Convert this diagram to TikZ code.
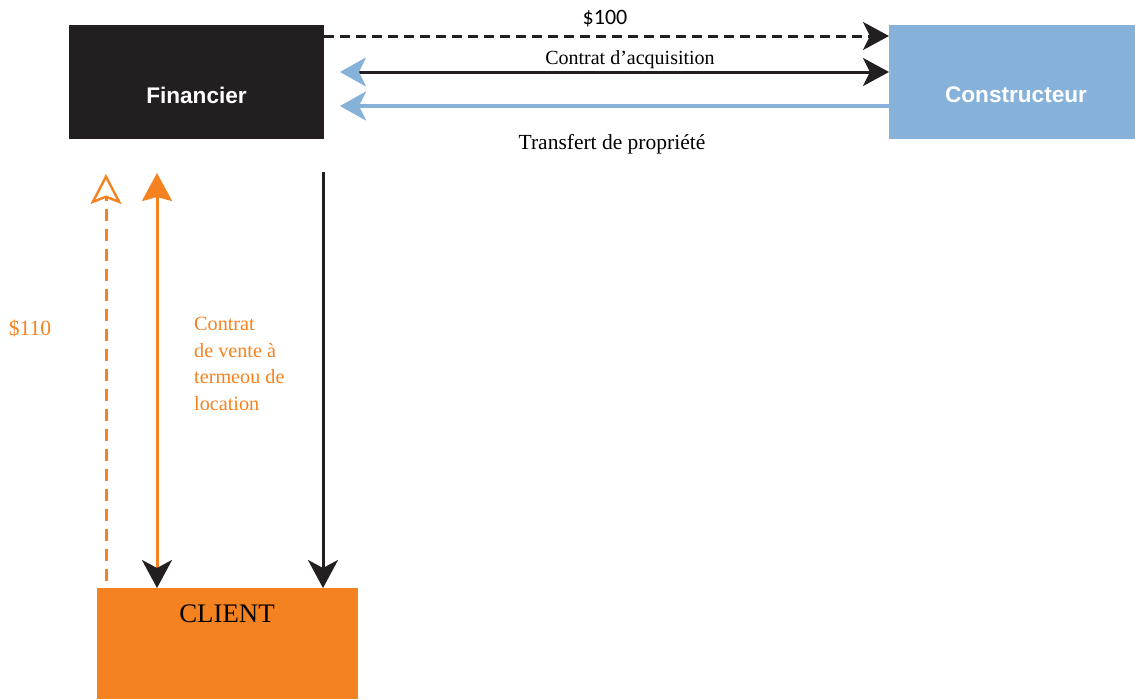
\documentclass[tikz,border=0pt]{standalone}
\usepackage{fontspec}
\setmainfont{Liberation Serif}
\newfontfamily\boxfont{Liberation Sans}
\newfontfamily\calfont{Carlito}
\usetikzlibrary{arrows.meta}
\definecolor{inkblack}{HTML}{231F20}
\definecolor{skyblue}{HTML}{86B1D8}
\definecolor{tangerine}{HTML}{F58220}
\tikzset{
  party/.style={draw=none, inner sep=0pt},
  partytext/.style={inner sep=0pt, font=\boxfont\bfseries\fontsize{22.6}{26}\selectfont, text=white},
  flow/.style={line width=3pt},
  lbl/.style={inner sep=0pt, font=\fontsize{20}{24}\selectfont},
}
\begin{document}
\begin{tikzpicture}[x=1pt, y=-1pt]
\useasboundingbox (0,0) rectangle (1135,699);
% parties
\node[party, fill=inkblack, minimum width=255pt, minimum height=114pt] (fin) at (196.5,82) {};
\node[partytext] (fintxt) at (196.5,95) {Financier};
\node[party, fill=skyblue, minimum width=246pt, minimum height=114pt] (con) at (1012,82) {};
\node[partytext] (context) at (1016,95) {Constructeur};
\node[party, fill=tangerine, minimum width=261pt, minimum height=111pt] (cli) at (227.5,643.5) {};
\node[inner sep=0pt, font=\fontsize{26.8}{30}\selectfont, text=black] (clitxt) at (227,614) {CLIENT};
% end points on the box edges
\coordinate (p1s) at (324,36);  \coordinate (p1e) at (889,36);
\coordinate (p2s) at (340,72);  \coordinate (p2e) at (889,72);
\coordinate (p3s) at (889,106); \coordinate (p3e) at (340,106);
\coordinate (v1s) at (323,172); \coordinate (v1e) at (323,588);
\coordinate (v2s) at (157,173); \coordinate (v2e) at (157,588);
\coordinate (v3s) at (106,581); \coordinate (v3e) at (106,174);
% financier <-> constructeur
\draw[flow, inkblack, dash pattern=on 10pt off 6pt, -{Stealth[length=26pt, width=28pt, inset=7pt, inkblack]}] (p1s) -- (p1e);
\draw[flow, inkblack, {Stealth[length=26pt, width=29pt, inset=7pt, skyblue]}-{Stealth[length=26pt, width=28pt, inset=7pt, inkblack]}] (p2s) -- (p2e);
\draw[line width=3.2pt, skyblue, -{Stealth[length=26pt, width=29pt, inset=7pt]}] (p3s) -- (p3e);
% financier <-> client
\draw[flow, inkblack, -{Stealth[length=28pt, width=30pt, inset=8pt]}] (v1s) -- (v1e);
\draw[flow, tangerine, {Stealth[length=28pt, width=30pt, inset=4pt, tangerine]}-{Stealth[length=28pt, width=30pt, inset=8pt, inkblack]}] (v2s) -- (v2e);
\draw[flow, tangerine, dash pattern=on 12pt off 8pt, -{Stealth[open, length=30pt, width=31pt, inset=6pt, fill=white, line width=2.4pt]}] (v3s) -- (v3e);
% labels
\node[lbl, font=\calfont\fontsize{22}{26}\selectfont] (l100) at (605,19) {\$100};
\node[lbl] (lacq) at (630,60) {Contrat d’acquisition};
\node[lbl, font=\fontsize{21.5}{26}\selectfont] (ltr) at (612,144) {Transfert de propriété};
\node[lbl, text=tangerine, font=\fontsize{21.6}{26}\selectfont] (l110) at (30,328) {\$110};
\node[lbl, text=tangerine, anchor=north west, align=left, font=\fontsize{20.2}{26.7}\selectfont] (lvente) at (194,317) {Contrat\\de vente à\\termeou de\\location};
\end{tikzpicture}
\end{document}
